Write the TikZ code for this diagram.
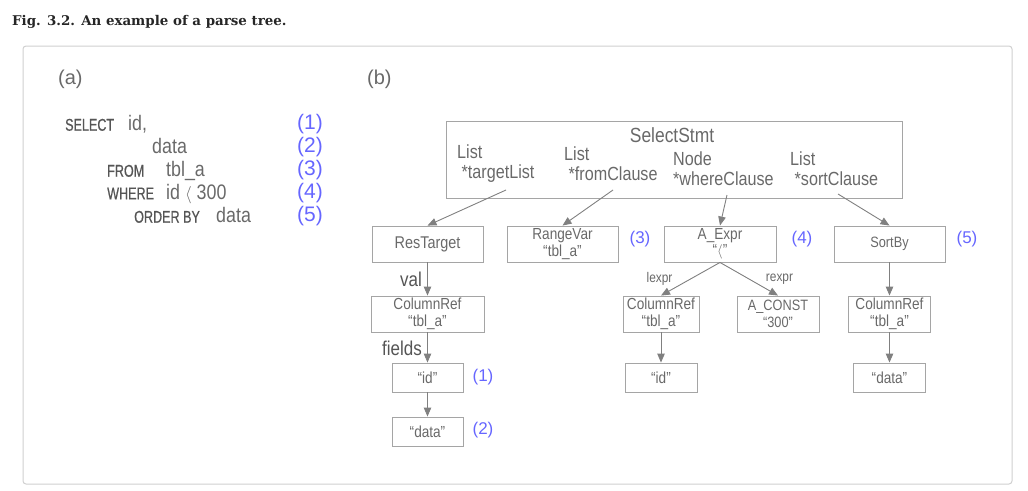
\documentclass[tikz,border=0pt]{standalone}
\usepackage{fontspec}
\usepackage{tikz}
\usetikzlibrary{arrows.meta}
\setsansfont{Liberation Sans}
\newfontfamily\treefont[FakeStretch=0.85]{Liberation Sans}
\newfontfamily\kwfont[FakeStretch=0.74,FakeBold=0.6]{Liberation Sans}
\newfontfamily\titlefont{DejaVu Serif}
\definecolor{txtgrey}{RGB}{105,105,105}
\definecolor{kwgrey}{RGB}{85,85,85}
\definecolor{linegrey}{RGB}{128,128,128}
\definecolor{boxgrey}{RGB}{165,165,165}
\definecolor{numblue}{RGB}{102,102,255}
\definecolor{framegrey}{RGB}{208,208,208}
\tikzset{
  treebox/.style={draw=boxgrey,line width=0.9pt,inner sep=0pt,align=center,text=txtgrey,
    font=\treefont\fontsize{16}{17}\selectfont},
  fld/.style={anchor=west,inner sep=0pt,align=left,text=txtgrey,
    font=\treefont\fontsize{19}{20}\selectfont},
  edgelbl/.style={inner sep=0pt,text=kwgrey,font=\treefont\fontsize{20}{20}\selectfont},
  arr/.style={draw=linegrey,line width=0.9pt,-{Triangle[length=9pt,width=7.5pt]}},
  num/.style={inner sep=0pt,text=numblue,font=\sffamily\fontsize{17}{17}\selectfont},
  kw/.style={anchor=base west,inner sep=0pt,text=kwgrey,font=\kwfont\fontsize{17}{16}\selectfont},
  sql/.style={anchor=base west,inner sep=0pt,text=txtgrey,font=\treefont\fontsize{21}{21}\selectfont}
}
\newcommand{\lt}[1]{{\fontsize{#1}{#1}\selectfont$\langle$}}

\begin{document}
\begin{tikzpicture}[x=1pt,y=-1pt]
\useasboundingbox (0,0) rectangle (1028,490);
\node[anchor=base west,inner sep=0pt,text=black!85,font=\titlefont\bfseries\fontsize{13.4}{14}\selectfont] (title) at (12,25) {Fig. 3.2. An example of a parse tree.};
\draw[framegrey,line width=1pt,rounded corners=3pt] (23,46) rectangle (1012,484);

% (a) the query
\node[anchor=base west,inner sep=0pt,text=txtgrey,font=\sffamily\fontsize{20}{20}\selectfont] (pa) at (58,84) {(a)};
\node[kw] (kwsel) at (65,130.7) {SELECT};
\node[sql] (vid) at (128,130.7) {id,};
\node[sql] (vdata) at (152,153.3) {data};
\node[kw] (kwfrom) at (107,176.7) {FROM};
\node[sql] (vtbl) at (166,176.7) {tbl\_a};
\node[kw] (kwwhere) at (107,199.3) {WHERE};
\node[sql] (vcond) at (166,199.3) {id \lt{18} 300};
\node[kw] (kword) at (134,222.7) {ORDER BY};
\node[sql] (vord) at (216,222.7) {data};
\foreach \n/\y in {1/129.7,2/152.3,3/175.7,4/198.3,5/221.7}{
\node[num,anchor=base west,font=\sffamily\fontsize{21}{21}\selectfont] (q\n) at (297,\y) {(\n)};
}

% (b) the parse tree
\node[anchor=base west,inner sep=0pt,text=txtgrey,font=\sffamily\fontsize{20}{20}\selectfont] (pb) at (367,84) {(b)};
\node[treebox,minimum width=456pt,minimum height=77pt] (sel) at (674,159.5) {};
\node[inner sep=0pt,text=txtgrey,font=\treefont\fontsize{20.5}{21}\selectfont] (seltitle) at (672,135) {SelectStmt};
\node[fld] (tl) at (457,164) {List\\\ *targetList};
\node[fld] (fc) at (564,164) {List\\\ *fromClause};
\node[fld] (wc) at (673,168.5) {Node\\*whereClause};
\node[fld] (sc) at (790,168.5) {List\\\ *sortClause};
\coordinate (tlout) at (506,190);
\coordinate (fcout) at (613,190);
\coordinate (wcout) at (727,195);
\coordinate (scout) at (838,194);

\node[treebox,minimum width=111pt,minimum height=36pt,font=\treefont\fontsize{17}{17}\selectfont] (res) at (427.5,244) {ResTarget};
\node[treebox,minimum width=111pt,minimum height=36pt] (rvar) at (562.5,244) {RangeVar\\“tbl\_a”};
\node[treebox,minimum width=112pt,minimum height=36pt] (aexpr) at (720,244) {A\_Expr\\[-1pt]“\lt{15}”};
\node[treebox,minimum width=111pt,minimum height=36pt,font=\treefont\fontsize{15}{15}\selectfont] (sortby) at (889.5,244) {SortBy};
\node[num] (n3) at (640,239) {(3)};
\node[num] (n4) at (802,239) {(4)};
\node[num] (n5) at (967,239) {(5)};

\node[treebox,minimum width=113pt,minimum height=36pt] (cref1) at (427.5,314) {ColumnRef\\“tbl\_a”};
\node[treebox,minimum width=76pt,minimum height=36pt] (cref2) at (661,314) {ColumnRef\\“tbl\_a”};
\node[treebox,minimum width=82pt,minimum height=36pt,font=\treefont\fontsize{15}{17}\selectfont] (aconst) at (778,314) {A\_CONST\\“300”};
\node[treebox,minimum width=82pt,minimum height=36pt] (cref3) at (889.5,314) {ColumnRef\\“tbl\_a”};

\node[treebox,minimum width=71pt,minimum height=29pt] (id1) at (427.5,377.5) {“id”};
\node[treebox,minimum width=71pt,minimum height=29pt] (data1) at (427.5,431.5) {“data”};
\node[treebox,minimum width=72pt,minimum height=29pt] (id2) at (661,377.5) {“id”};
\node[treebox,minimum width=72pt,minimum height=29pt] (data3) at (889.5,377.5) {“data”};
\node[num] (n1) at (483,377) {(1)};
\node[num] (n2) at (483,430) {(2)};

\draw[arr] (tlout) -- (res.north);
\draw[arr] (fcout) -- (rvar.north);
\draw[arr] (wcout) -- (aexpr.north);
\draw[arr] (scout) -- (sortby.north);

\draw[arr] (res) -- (cref1);
\draw[arr] (cref1) -- (id1);
\draw[arr] (id1) -- (data1);
\node[edgelbl,anchor=east] (lval) at (422,279) {val};
\node[edgelbl,anchor=east] (lfields) at (422,348) {fields};

\draw[arr] (aexpr.south) -- (cref2.north);
\draw[arr] (aexpr.south) -- (aconst.north);
\draw[arr] (cref2) -- (id2);
\node[edgelbl,text=txtgrey,font=\treefont\fontsize{14}{14}\selectfont] (llexpr) at (659.5,279) {lexpr};
\node[edgelbl,text=txtgrey,font=\treefont\fontsize{14}{14}\selectfont] (lrexpr) at (779.5,279) {rexpr};

\draw[arr] (sortby) -- (cref3);
\draw[arr] (cref3) -- (data3);
\end{tikzpicture}
\end{document}
